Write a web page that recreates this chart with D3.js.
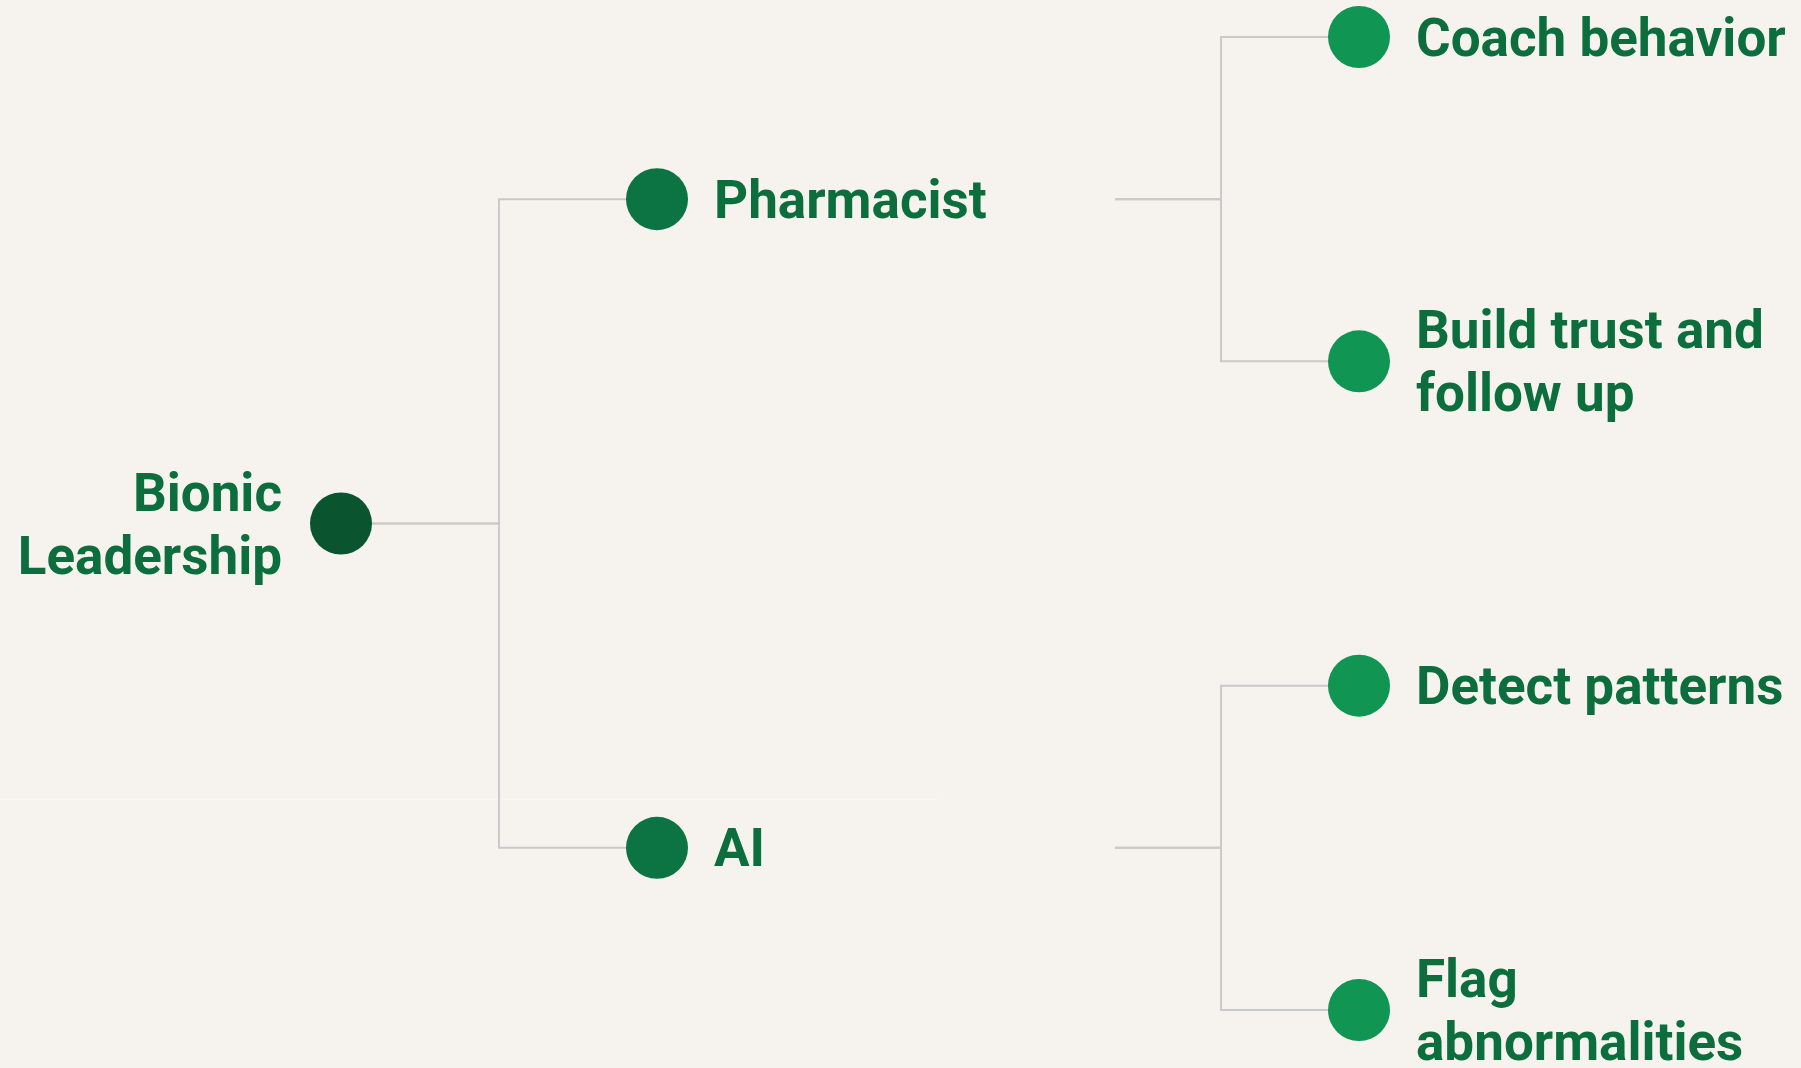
<!DOCTYPE html>
<html>
<head>
<meta charset="utf-8">
<script src="https://cdn.jsdelivr.net/npm/d3@7"></script>
<style>
  html, body { margin: 0; padding: 0; background: #f6f3ee; }
  svg { display: block; }
  text { font-family: Roboto, "Noto Sans", sans-serif; font-weight: 700; }
</style>
</head>
<body>
<svg id="chart" width="1801" height="1068"></svg>
<script>
// ---- data ----
const rootLines = ["Bionic", "Leadership"];
const branchNames = ["Pharmacist", "AI"];
const leafLines = [
  [["Coach behavior"], ["Build trust and", "follow up"]],
  [["Detect patterns"], ["Flag", "abnormalities"]]
];
const depthColors = ["#0a5530", "#0c7442", "#109552"];
const textColor = "#0c6e3d";
const linkColor = "#c9c9c9";
const bgColor = "#f6f3ee";

const W = 1801, H = 1068;
const svg = d3.select("#chart");
svg.append("rect").attr("width", W).attr("height", H).attr("fill", bgColor);
// faint seam line seen in reference
svg.append("rect").attr("x", 0).attr("y", 798.5).attr("width", 937).attr("height", 1)
  .attr("fill", "#fbf9f6");

const treeData = {
  lines: rootLines,
  children: branchNames.map((b, i) => ({
    lines: [b],
    children: leafLines[i].map(l => ({ lines: l }))
  }))
};

const root = d3.hierarchy(treeData);
d3.tree().nodeSize([1, 1]).separation(() => 1)(root);

const yScale = d3.scaleLinear()
  .domain(d3.extent(root.descendants(), d => d.x))
  .range([37, 1010]);
const xByDepth = d3.scaleLinear().domain([0, 1, 2]).range([341, 657, 1359]);
const yPos = d => yScale(d.x);

const R = 31;
const fontSize = 53;
const lineH = 63;
const labelGapLeft = 59;
const labelGapRight = 57;
const midLabelBox = 458;  // mid-level label area that hides the link start
const leafForkBack = 138;

// links
const linkG = svg.append("g").attr("fill", "none").attr("stroke", linkColor).attr("stroke-width", 2);
root.links().forEach(l => {
  const sx = xByDepth(l.source.depth), sy = yPos(l.source);
  const tx = xByDepth(l.target.depth), ty = yPos(l.target);
  let startX, forkX;
  if (l.source.depth === 0) { startX = sx; forkX = (sx + tx) / 2; }
  else { startX = sx + midLabelBox; forkX = tx - leafForkBack; }
  const p = d3.path();
  p.moveTo(startX, sy);
  p.lineTo(forkX, sy);
  p.lineTo(forkX, ty);
  p.lineTo(tx, ty);
  linkG.append("path").attr("d", p.toString());
});

// nodes
const nodes = svg.append("g").selectAll("g").data(root.descendants()).join("g")
  .attr("transform", d => `translate(${xByDepth(d.depth)},${yPos(d)})`);

nodes.append("circle").attr("r", R).attr("fill", d => depthColors[d.depth]);

nodes.append("text")
  .attr("fill", textColor)
  .attr("font-size", fontSize)
  .attr("text-anchor", d => d.depth === 0 ? "end" : "start")
  .each(function(d) {
    const t = d3.select(this);
    const n = d.data.lines.length;
    d.data.lines.forEach((ln, i) => {
      t.append("tspan")
        .attr("x", d.depth === 0 ? -labelGapLeft : labelGapRight)
        .attr("y", -(n - 1) / 2 * lineH + i * lineH + 0.35 * fontSize)
        .text(ln);
    });
  });
</script>
</body>
</html>
